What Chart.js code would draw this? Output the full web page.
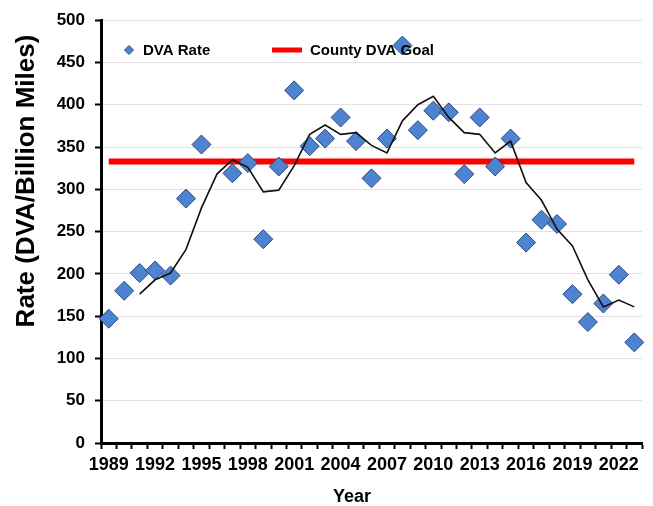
<!DOCTYPE html>
<html>
<head>
<meta charset="utf-8">
<script src="https://cdn.jsdelivr.net/npm/chart.js@4/dist/chart.umd.min.js"></script>
<style>
  html, body { margin: 0; padding: 0; background: #ffffff; }
  #c { display: block; }
</style>
</head>
<body>
<canvas id="c" width="653" height="506"></canvas>
<script>
const years = ['1989','1990','1991','1992','1993','1994','1995','1996','1997','1998','1999','2000',
  '2001','2002','2003','2004','2005','2006','2007','2008','2009','2010','2011','2012','2013','2014',
  '2015','2016','2017','2018','2019','2020','2021','2022','2023'];
const dvaRate = [147,180,201,204,198,289,353,null,319,331,241,327,417,351,360,385,357,313,360,470,
  370,393,391,318,385,327,360,237,264,259,176,143,165,199,119];
const movingAverage = [null,null,176,193,201,229,278,318,335,326,297,299,328,365,376,365,367,352,343,
  381,400,410,385,367,365,343,357,308,287,253,233,193,161,169,161];
const countyGoal = 333;
const yTicks = [0,50,100,150,200,250,300,350,400,450,500];
const yTitle = 'Rate (DVA/Billion Miles)';
const xTitle = 'Year';
const legendLabels = ['DVA Rate', 'County DVA Goal'];

const FONT = '"Liberation Sans", Arial, sans-serif';

const overlay = {
  id: 'overlay',
  afterDatasetsDraw(chart) {
    const ctx = chart.ctx;
    ctx.save();
    // legend
    ctx.font = 'bold 15px ' + FONT;
    ctx.textBaseline = 'middle';
    ctx.fillStyle = '#000';
    // diamond marker
    ctx.beginPath();
    ctx.moveTo(129, 45.5); ctx.lineTo(133.5, 50); ctx.lineTo(129, 54.5); ctx.lineTo(124.5, 50); ctx.closePath();
    ctx.fillStyle = '#4d83d0'; ctx.fill();
    ctx.strokeStyle = '#2c4a7a'; ctx.lineWidth = 1; ctx.stroke();
    ctx.fillStyle = '#000';
    ctx.textAlign = 'left';
    ctx.fillText(legendLabels[0], 143, 51);
    ctx.strokeStyle = '#ff0000'; ctx.lineWidth = 5;
    ctx.beginPath(); ctx.moveTo(272, 50); ctx.lineTo(302, 50); ctx.stroke();
    ctx.fillText(legendLabels[1], 310, 51);
    ctx.restore();
  },
  afterDraw(chart) {
    const ctx = chart.ctx;
    ctx.save();
    ctx.fillStyle = '#000';
    ctx.textAlign = 'center';
    ctx.textBaseline = 'middle';
    ctx.font = 'bold 18px ' + FONT;
    ctx.fillText(xTitle, 352, 497);
    ctx.translate(27, 181);
    ctx.rotate(-Math.PI / 2);
    ctx.font = 'bold 26px ' + FONT;
    ctx.fillText(yTitle, 0, 0);
    ctx.restore();
  }
};

new Chart(document.getElementById('c'), {
  type: 'line',
  data: {
    labels: years,
    datasets: [
      {
        label: 'Moving Average',
        data: movingAverage,
        borderColor: '#111111',
        borderWidth: 1.6,
        pointRadius: 0,
        tension: 0,
        fill: false,
        order: 0
      },
      {
        label: legendLabels[0],
        data: dvaRate,
        showLine: false,
        pointStyle: 'rectRot',
        pointRadius: 9.5,
        pointHoverRadius: 9.5,
        pointBackgroundColor: '#4d83d0',
        pointBorderColor: '#2c4a7a',
        pointBorderWidth: 1,
        order: 1
      },
      {
        label: legendLabels[1],
        data: years.map(() => countyGoal),
        borderColor: '#ff0000',
        borderWidth: 6,
        pointRadius: 0,
        fill: false,
        order: 2
      }
    ]
  },
  options: {
    responsive: false,
    animation: false,
    events: [],
    layout: { padding: { left: 0, top: 18, right: 11, bottom: 0 } },
    plugins: {
      legend: { display: false },
      tooltip: { enabled: false }
    },
    scales: {
      x: {
        type: 'category',
        offset: true,
        grid: {
          offset: true,
          drawOnChartArea: false,
          drawTicks: true,
          tickLength: 6,
          tickColor: '#000',
          tickWidth: 2
        },
        border: { color: '#000', width: 3 },
        ticks: {
          autoSkip: false,
          maxRotation: 0,
          minRotation: 0,
          padding: 5,
          color: '#000',
          font: { family: FONT, size: 18, weight: 'bold' },
          callback: function(value, index) {
            return index % 3 === 0 ? years[index] : '';
          }
        },
        afterFit(scale) { scale.height = 63; }
      },
      y: {
        min: 0,
        max: 500,
        afterBuildTicks(scale) { scale.ticks = yTicks.map(v => ({ value: v })); },
        grid: {
          color: '#e2e2e2',
          lineWidth: 1,
          drawTicks: true,
          tickLength: 6,
          tickColor: '#000',
          tickWidth: 2
        },
        border: { color: '#000', width: 3 },
        ticks: {
          padding: 10,
          color: '#000',
          font: { family: FONT, size: 17, weight: 'bold' }
        },
        afterFit(scale) { scale.width = 101; }
      }
    }
  },
  plugins: [overlay]
});
</script>
</body>
</html>
